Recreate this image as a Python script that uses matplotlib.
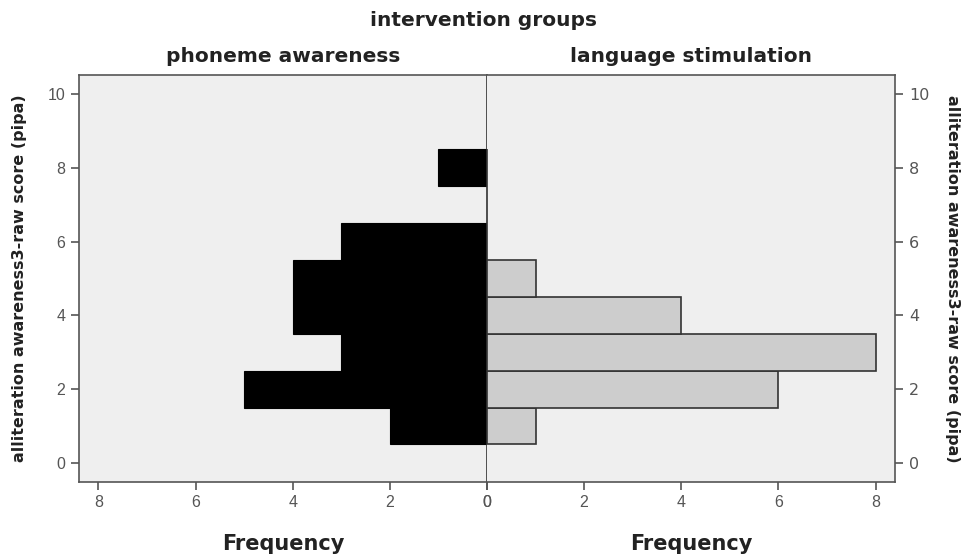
import numpy as np
import matplotlib.pyplot as plt

# alliteration awareness raw score bins and frequencies per group
scores = [1, 2, 3, 4, 5, 6, 7, 8]
phoneme_freq = [2, 5, 3, 4, 4, 3, 0, 1]
language_freq = [1, 6, 8, 4, 1, 0, 0, 0]
x_ticks = [0, 2, 4, 6, 8]
y_ticks = [0, 2, 4, 6, 8, 10]

bg = '#efefef'
spine = '#555555'
tick_col = '#555555'
title_font = dict(family='DejaVu Sans', weight='bold', color='#222222')

fig = plt.figure(figsize=(9.66, 5.58), dpi=100)
ax_l = fig.add_axes([0.0818, 0.1362, 0.4224, 0.7294])
ax_r = fig.add_axes([0.5041, 0.1362, 0.4224, 0.7294])

ax_l.barh(scores, phoneme_freq, height=1.0, color='black', edgecolor='black', linewidth=0.8)
ax_r.barh(scores, language_freq, height=1.0, color='#cdcdcd', edgecolor='#333333', linewidth=1.2)

for ax in (ax_l, ax_r):
    ax.set_facecolor(bg)
    ax.set_xlim(0, 8.4)
    ax.set_ylim(-0.52, 10.52)
    ax.set_xticks(x_ticks)
    ax.set_yticks(y_ticks)
    for s in ax.spines.values():
        s.set_color(spine)
        s.set_linewidth(1.2)
    ax.tick_params(axis='both', direction='out', length=6, width=1.2, color=spine,
                   labelcolor=tick_col, labelsize=11.5)
    for lbl in ax.get_xticklabels() + ax.get_yticklabels():
        lbl.set_family('Liberation Sans')
    ax.set_xlabel('Frequency', fontsize=15, labelpad=17, **title_font)

ax_l.invert_xaxis()
ax_l.spines['right'].set_color('#333333')
ax_r.spines['left'].set_visible(False)
ax_r.yaxis.tick_right()
ax_r.yaxis.set_label_position('right')
ax_l.tick_params(axis='y', pad=4)
ax_r.tick_params(axis='y', pad=4)

ax_l.set_ylabel('alliteration awareness3-raw score (pipa)', fontsize=11.5, labelpad=15, **title_font)
ax_r.set_ylabel('alliteration awareness3-raw score (pipa)', fontsize=11.5, labelpad=22,
                rotation=270, **title_font)

ax_l.set_title('phoneme awareness', fontsize=14.5, pad=9, **title_font)
ax_r.set_title('language stimulation', fontsize=14.5, pad=9, **title_font)
fig.text(0.5, 0.963, 'intervention groups', ha='center', va='center', fontsize=14.5, **title_font)

fig.savefig('out.png', dpi=100, facecolor='white')
